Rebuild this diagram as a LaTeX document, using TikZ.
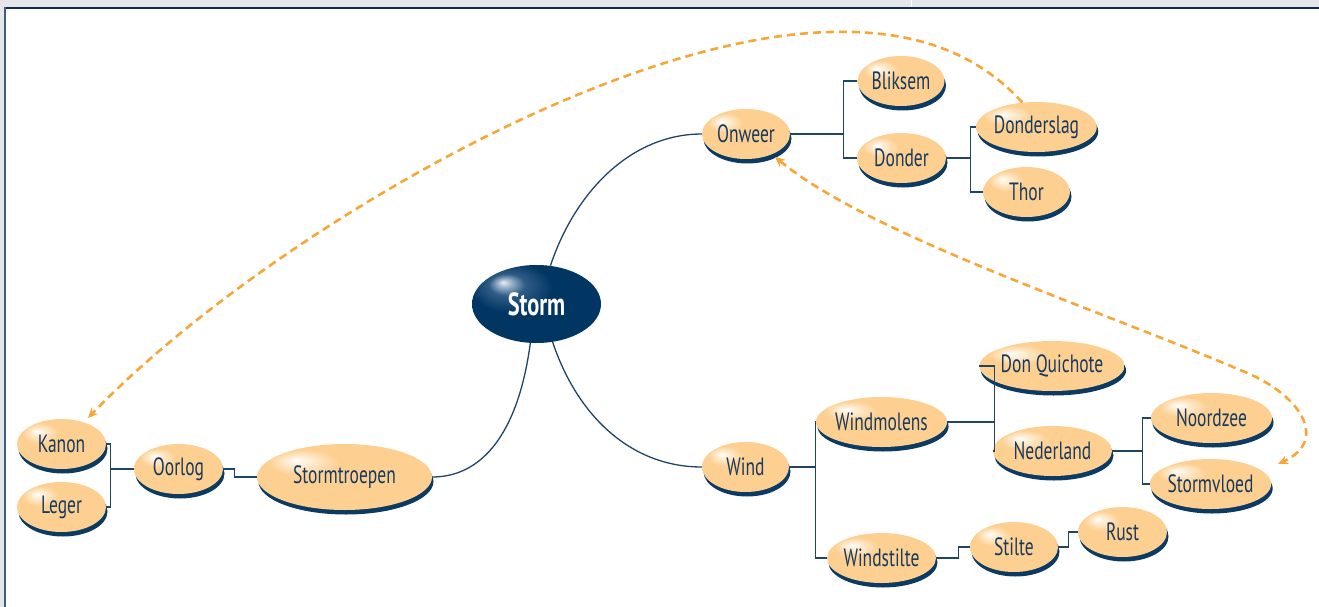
\documentclass[tikz,border=0pt]{standalone}
\usepackage{fontspec}
\setmainfont{PT Sans}[FakeStretch=0.70]
\usetikzlibrary{shapes.geometric,arrows.meta,shadows}
\definecolor{peach}{HTML}{FDD092}
\definecolor{peachhi}{HTML}{FFF3E2}
\definecolor{navy}{HTML}{0B3A62}
\definecolor{txt}{HTML}{173A5E}
\definecolor{linkc}{HTML}{1F4468}
\definecolor{orangec}{HTML}{F7A738}
\definecolor{stormc}{HTML}{013662}
\definecolor{stormhi}{HTML}{E8EEF4}
\definecolor{stormmid}{HTML}{9FB6CC}
\definecolor{stormmid2}{HTML}{2F5C86}
\definecolor{framegray}{HTML}{E4E6EA}
\definecolor{framedark}{HTML}{0F2D4D}
\definecolor{frameblue}{HTML}{3E5F80}
\pgfdeclareradialshading{peachshade}{\pgfpoint{-14bp}{13bp}}{color(0bp)=(white); color(2bp)=(peachhi); color(10bp)=(peach); color(25bp)=(peach); color(60bp)=(peach)}
\pgfdeclareradialshading{stormshade}{\pgfpoint{-13bp}{14bp}}{color(0bp)=(stormhi); color(2.5bp)=(stormmid); color(7bp)=(stormmid2); color(16bp)=(stormc); color(25bp)=(stormc); color(60bp)=(stormc)}
\begin{document}
\begin{tikzpicture}[x=1pt,y=-1pt,
  leaf/.style={ellipse, shading=peachshade, draw=none, text=txt, inner sep=0pt,
    minimum height=50pt,
    drop shadow={shadow xshift=1.5pt, shadow yshift=-4.5pt, fill=navy, opacity=1},
    font=\fontsize{25}{25}\selectfont},
  hub/.style={ellipse, shading=stormshade, draw=none, text=white, inner sep=0pt,
    minimum width=129pt, minimum height=78pt,
    font=\fontsize{32}{32}\selectfont\bfseries},
  link/.style={draw=linkc, line width=1.3pt},
  rel/.style={draw=orangec, line width=2.6pt, dash pattern=on 8pt off 5pt},
  tip/.style={-{Stealth[length=10pt,width=9pt]}},
  bothtip/.style={{Stealth[length=10pt,width=9pt]}-{Stealth[length=10pt,width=9pt]}}]
\useasboundingbox (0,0) rectangle (1319,607);
% frame
\fill[framegray] (0,0) rectangle (1319,7.5);
\fill[framegray] (0,0) rectangle (4,607);
\fill[white] (910.5,0) rectangle (912,7.5);
\fill[framedark] (4,7.5) rectangle (1319,9.5);
\fill[frameblue] (4,7.5) rectangle (6,607);

% nodes
\node[hub] (Storm) at (536.5,304) {Storm};
\node[leaf, minimum width=88pt] (Onweer) at (746,134) {Onweer};
\node[leaf, minimum width=87pt] (Bliksem) at (901,81) {Bliksem};
\node[leaf, minimum width=89pt] (Donder) at (901.5,158) {Donder};
\node[leaf, minimum width=107pt] (Donderslag) at (1036.5,127) {Donderslag};
\node[leaf, minimum width=87pt] (Thor) at (1026.5,192) {Thor};
\node[leaf, minimum width=87pt] (Wind) at (745.5,467) {Wind};
\node[leaf, minimum width=113pt] (Windmolens) at (881.5,422) {Windmolens};
\node[leaf, minimum width=109pt] (Windstilte) at (881.5,558) {Windstilte};
\node[leaf, minimum width=120pt] (DonQuichote) at (1052,366) {Don Quichote};
\node[leaf, minimum width=119pt] (Nederland) at (1052.5,451) {Nederland};
\node[leaf, minimum width=121pt] (Noordzee) at (1211.5,418) {Noordzee};
\node[leaf, minimum width=119pt] (Stormvloed) at (1210.5,484) {Stormvloed};
\node[leaf, minimum width=88pt] (Stilte) at (1014,547) {Stilte};
\node[leaf, minimum width=89pt] (Rust) at (1122.5,532) {Rust};
\node[leaf, minimum width=89pt] (Kanon) at (61.5,444) {Kanon};
\node[leaf, minimum width=89pt] (Leger) at (61.5,507) {Leger};
\node[leaf, minimum width=89pt] (Oorlog) at (178.5,469) {Oorlog};
\node[leaf, minimum width=175pt, minimum height=66pt] (Stormtroepen) at (344.5,477) {Stormtroepen};

% curved connectors from Storm
\draw[link] (Storm.70) .. controls +(25,-75) and +(-70,0) .. (Onweer.west);
\draw[link] (Storm.261) .. controls +(-12,90) and +(50,0) .. (Stormtroepen.east);
\draw[link] (Storm.293) .. controls +(25,75) and +(-70,0) .. (Wind.west);

% orthogonal connectors
\draw[link] (Onweer.east) -- ++(53,0) coordinate (j1) |- (Bliksem.west);
\draw[link] (j1) |- (Donder.west);
\draw[link] (Donder.east) -- ++(24,0) coordinate (j2) |- (Donderslag.west);
\draw[link] (j2) |- (Thor.west);
\draw[link] (Wind.east) -- ++(26,0) coordinate (j3) |- (Windmolens.west);
\draw[link] (j3) |- (Windstilte.west);
\draw[link] (Windmolens.east) -- ++(47,0) coordinate (j4) |- (DonQuichote.west);
\draw[link] (j4) |- (Nederland.west);
\draw[link] (Nederland.east) -- ++(30,0) coordinate (j5) |- (Noordzee.west);
\draw[link] (j5) |- (Stormvloed.west);
\draw[link] (Windstilte.east) -- ++(22,0) |- (Stilte.west);
\draw[link] (Stilte.east) -- ++(10,0) |- (Rust.west);
\draw[link] (Oorlog.east) -- ++(11,0) |- (Stormtroepen.west);
\draw[link] (Oorlog.west) -- ++(-23,0) coordinate (j6);
\draw[link] (Kanon.east) -| (j6) |- (Leger.east);

% dashed relations
\coordinate (kt) at (88,418);
\coordinate (ot) at (775,157);
\coordinate (st) at (1278,464);
\coordinate (peak) at (830,32);
\coordinate (bend) at (1240,370);
\draw[rel, tip] (Donderslag.120) .. controls (970,45) and (900,30) .. (peak)
  .. controls (600,38) and (250,250) .. (kt);
\draw[rel, bothtip] (ot) .. controls (870,235) and (1100,310) .. (bend)
  .. controls (1300,393) and (1330,440) .. (st);
\end{tikzpicture}
\end{document}
